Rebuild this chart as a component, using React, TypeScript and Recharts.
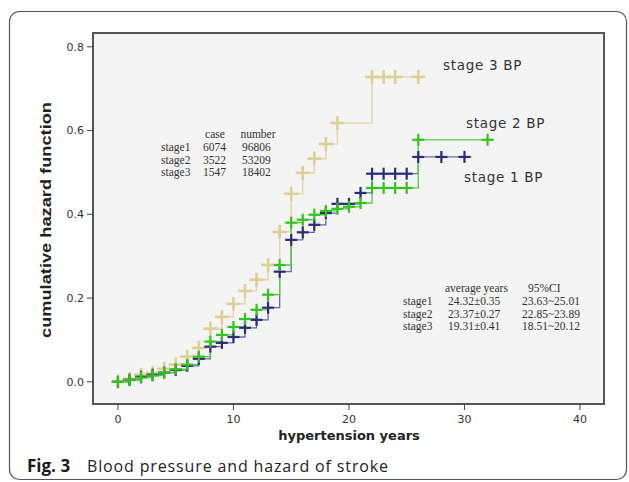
import { LineChart, Line, XAxis, YAxis, CartesianGrid, ReferenceArea } from 'recharts'

// hypertension years (step times) and cumulative hazard for each BP stage
const stage1Years = [0, 1, 2, 3, 4, 5, 6, 7, 8, 9, 10, 11, 12, 13, 14, 15, 16, 17, 18, 19, 20, 21, 22, 23, 24, 25, 26, 28, 30, 30.6]
const stage1Hazard = [0, 0.005, 0.012, 0.017, 0.022, 0.028, 0.038, 0.055, 0.084, 0.093, 0.107, 0.129, 0.148, 0.177, 0.263, 0.339, 0.357, 0.375, 0.403, 0.425, 0.425, 0.451, 0.497, 0.497, 0.497, 0.497, 0.537, 0.537, 0.537, 0.537]

const stage2Years = [0, 1, 2, 3, 4, 5, 6, 7, 8, 9, 10, 11, 12, 13, 14, 15, 16, 17, 18, 19, 20, 21, 22, 23, 24, 25, 26, 32, 32.5]
const stage2Hazard = [0, 0.004, 0.01, 0.015, 0.022, 0.03, 0.041, 0.06, 0.096, 0.112, 0.131, 0.15, 0.172, 0.208, 0.279, 0.38, 0.387, 0.399, 0.408, 0.413, 0.418, 0.427, 0.463, 0.463, 0.463, 0.463, 0.578, 0.578, 0.578]

const stage3Years = [0, 1, 2, 3, 4, 5, 6, 7, 8, 9, 10, 11, 12, 13, 14, 15, 16, 17, 18, 19, 22, 23, 24, 26, 26.6]
const stage3Hazard = [0, 0.007, 0.017, 0.021, 0.031, 0.041, 0.06, 0.081, 0.127, 0.155, 0.186, 0.217, 0.244, 0.279, 0.358, 0.449, 0.499, 0.533, 0.568, 0.618, 0.728, 0.728, 0.728, 0.728, 0.728]

const xTicks = [0, 10, 20, 30, 40]
const yTicks = [0, 0.2, 0.4, 0.6, 0.8]

const caseHeader = ['case', 'number']
const caseRows = [
  ['stage1', '6074', '96806'],
  ['stage2', '3522', '53209'],
  ['stage3', '1547', '18402'],
]
const yearsHeader = ['average years', '95%CI']
const yearsRows = [
  ['stage1', '24.32±0.35', '23.63~25.01'],
  ['stage2', '23.37±0.27', '22.85~23.89'],
  ['stage3', '19.31±0.41', '18.51~20.12'],
]

const X_DOMAIN: [number, number] = [-2.16, 42.08]
const Y_DOMAIN: [number, number] = [-0.053, 0.833]

const toPoints = (years: number[], hazard: number[]) => years.map((t, i) => ({ t, h: hazard[i] }))

const stage1Data = toPoints(stage1Years, stage1Hazard)
const stage2Data = toPoints(stage2Years, stage2Hazard)
const stage3Data = toPoints(stage3Years, stage3Hazard)

function crossDot(color: string, half: number, width: number, count: number) {
  return (props: any) => {
    const { cx, cy, index } = props
    if (index === count - 1 || cx == null) return <g key={`e-${index}`} />
    return (
      <g key={`c-${index}`}>
        <line x1={cx - half} x2={cx + half} y1={cy} y2={cy} stroke={color} strokeWidth={width} />
        <line x1={cx} x2={cx} y1={cy - half} y2={cy + half} stroke={color} strokeWidth={width} />
      </g>
    )
  }
}

const tickFont = { fontSize: 11, fill: '#333', fontFamily: 'DejaVu Sans' }
const serif = { fontFamily: 'Liberation Serif', fontSize: 11.5, fill: '#333' }
const labelFont = { fontFamily: 'DejaVu Sans', fontSize: 13.5, fill: '#333', letterSpacing: 0.7 }

export default function App() {
  return (
    <div style={{ position: 'absolute', left: 0, top: 0, width: 629, height: 482, background: '#fff' }}>
      <LineChart width={629} height={482} data={stage1Data} margin={{ top: 33, right: 25, bottom: 48, left: 0 }}>
        <CartesianGrid horizontal={false} vertical={false} fill="#f4f4f4" />
        <XAxis
          dataKey="t"
          type="number"
          domain={X_DOMAIN}
          ticks={xTicks}
          allowDataOverflow
          height={30}
          tick={tickFont}
          tickSize={6}
          tickMargin={5}
          axisLine={{ stroke: '#555', strokeWidth: 2 }}
          tickLine={{ stroke: '#444' }}
        />
        <YAxis
          type="number"
          domain={Y_DOMAIN}
          ticks={yTicks}
          allowDataOverflow
          width={93}
          tick={tickFont}
          tickSize={6}
          tickMargin={3}
          tickFormatter={(v: number) => v.toFixed(1)}
          axisLine={{ stroke: '#555', strokeWidth: 2 }}
          tickLine={{ stroke: '#444' }}
        />
        <Line
          data={stage3Data}
          dataKey="h"
          type="stepAfter"
          stroke="#e3d9ad"
          strokeWidth={1.6}
          dot={crossDot('#dcd096', 7, 2.6, stage3Data.length)}
          activeDot={false}
          isAnimationActive={false}
        />
        <Line
          data={stage1Data}
          dataKey="h"
          type="stepAfter"
          stroke="#6a6aaa"
          strokeWidth={1.3}
          dot={crossDot('#2b2b78', 6, 2.2, stage1Data.length)}
          activeDot={false}
          isAnimationActive={false}
        />
        <Line
          data={stage2Data}
          dataKey="h"
          type="stepAfter"
          stroke="#52cc44"
          strokeWidth={1.3}
          dot={crossDot('#35c21c', 6, 2.2, stage2Data.length)}
          activeDot={false}
          isAnimationActive={false}
        />
        <ReferenceArea
          x1={X_DOMAIN[0]}
          x2={X_DOMAIN[1]}
          y1={Y_DOMAIN[0]}
          y2={Y_DOMAIN[1]}
          fill="none"
          stroke="#555"
          strokeWidth={2}
          ifOverflow="visible"
        />
      </LineChart>

      <svg width={629} height={482} style={{ position: 'absolute', left: 0, top: 0, pointerEvents: 'none' }}>
        <rect x={9.5} y={11.5} width={617} height={468} rx={10} fill="none" stroke="#555" strokeWidth={1.2} />

        <text x={215} y={138} textAnchor="middle" {...serif}>{caseHeader[0]}</text>
        <text x={258} y={138} textAnchor="middle" {...serif}>{caseHeader[1]}</text>
        {caseRows.map((r, i) => (
          <g key={r[0]}>
            <text x={161} y={151 + i * 12.5} {...serif}>{r[0]}</text>
            <text x={203} y={151 + i * 12.5} {...serif}>{r[1]}</text>
            <text x={242} y={151 + i * 12.5} {...serif}>{r[2]}</text>
          </g>
        ))}

        <text x={445} y={292} {...serif}>{yearsHeader[0]}</text>
        <text x={528} y={292} {...serif}>{yearsHeader[1]}</text>
        {yearsRows.map((r, i) => (
          <g key={r[0]}>
            <text x={403} y={305 + i * 12.5} {...serif}>{r[0]}</text>
            <text x={448} y={305 + i * 12.5} {...serif}>{r[1]}</text>
            <text x={522} y={305 + i * 12.5} {...serif}>{r[2]}</text>
          </g>
        ))}

        <text x={443} y={70} {...labelFont}>stage 3 BP</text>
        <text x={466} y={128} {...labelFont}>stage 2 BP</text>
        <text x={464} y={182} {...labelFont}>stage 1 BP</text>

        <text
          transform="translate(51, 220) rotate(-90)"
          textAnchor="middle"
          textLength={236}
          lengthAdjust="spacingAndGlyphs"
          fontFamily="Liberation Sans"
          fontWeight="bold"
          fontSize={15}
          fill="#222"
        >
          cumulative hazard function
        </text>
        <text x={349} y={440} textAnchor="middle" fontFamily="DejaVu Sans" fontWeight="bold" fontSize={13} fill="#222">
          hypertension years
        </text>

        <text x={27} y={472} fontFamily="Open Sans" fontWeight="bold" fontSize={17} fill="#1a1a1a">Fig. 3</text>
        <text x={87} y={472} fontFamily="Open Sans" fontSize={16} fill="#222" textLength={301}>
          Blood pressure and hazard of stroke
        </text>
      </svg>
    </div>
  )
}
